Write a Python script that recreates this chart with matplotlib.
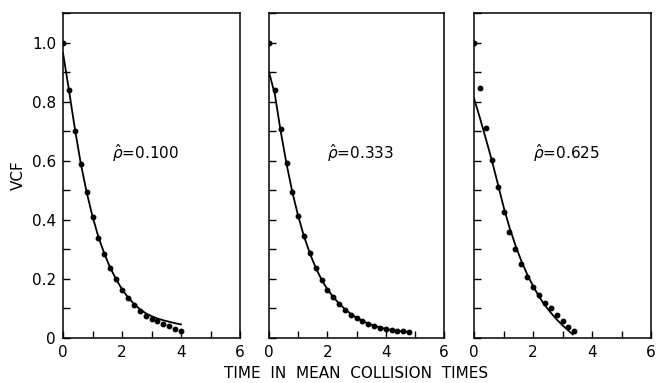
import matplotlib.pyplot as plt
from matplotlib.ticker import MultipleLocator

# simulation points (spacing 0.2 mean collision times)
t1 = [0.0, 0.2, 0.4, 0.6, 0.8, 1.0, 1.2, 1.4, 1.6, 1.8, 2.0, 2.2, 2.4, 2.6, 2.8, 3.0,
      3.2, 3.4, 3.6, 3.8, 4.0]
vcf1 = [1.0, 0.839, 0.702, 0.589, 0.493, 0.411, 0.340, 0.284, 0.238, 0.199, 0.162,
        0.136, 0.113, 0.092, 0.075, 0.066, 0.058, 0.049, 0.041, 0.032, 0.024]

t2 = [0.0, 0.2, 0.4, 0.6, 0.8, 1.0, 1.2, 1.4, 1.6, 1.8, 2.0, 2.2, 2.4, 2.6, 2.8, 3.0,
      3.2, 3.4, 3.6, 3.8, 4.0, 4.2, 4.4, 4.6, 4.8]
vcf2 = [1.0, 0.841, 0.706, 0.592, 0.495, 0.414, 0.345, 0.287, 0.238, 0.198, 0.164,
        0.138, 0.116, 0.096, 0.079, 0.068, 0.058, 0.049, 0.042, 0.035, 0.029, 0.026,
        0.024, 0.023, 0.022]

t3 = [0.0, 0.2, 0.4, 0.6, 0.8, 1.0, 1.2, 1.4, 1.6, 1.8, 2.0, 2.2, 2.4, 2.6, 2.8, 3.0,
      3.2, 3.4]
vcf3 = [1.0, 0.845, 0.712, 0.601, 0.510, 0.428, 0.358, 0.300, 0.250, 0.208, 0.173,
        0.144, 0.119, 0.100, 0.078, 0.057, 0.037, 0.024]

# theory curves
ct1 = [0.0, 0.2, 0.4, 0.6, 0.8, 1.0, 1.2, 1.4, 1.6, 1.8, 2.0, 2.2, 2.4, 2.6, 2.8, 3.0,
       3.2, 3.4, 3.6, 3.8, 4.0]
cv1 = [0.965, 0.84, 0.71, 0.592, 0.494, 0.412, 0.342, 0.286, 0.238, 0.199, 0.165,
       0.138, 0.116, 0.098, 0.084, 0.074, 0.066, 0.060, 0.055, 0.050, 0.046]

ct2 = [0.0, 0.2, 0.4, 0.6, 0.8, 1.0, 1.2, 1.4, 1.6, 1.8, 2.0, 2.2, 2.4, 2.6, 2.8, 3.0,
       3.2, 3.4, 3.6, 3.8, 4.0, 4.2, 4.4, 4.6, 4.8]
cv2 = [0.90, 0.825, 0.70, 0.59, 0.494, 0.413, 0.344, 0.287, 0.238, 0.198, 0.165,
       0.139, 0.117, 0.098, 0.082, 0.069, 0.058, 0.049, 0.042, 0.036, 0.031, 0.027,
       0.024, 0.022, 0.021]

ct3 = [0.0, 0.2, 0.4, 0.6, 0.8, 1.0, 1.2, 1.4, 1.6, 1.8, 2.0, 2.2, 2.4, 2.6, 2.8, 3.0,
       3.2, 3.35]
cv3 = [0.812, 0.745, 0.675, 0.603, 0.525, 0.445, 0.375, 0.315, 0.262, 0.216, 0.176,
       0.141, 0.111, 0.086, 0.063, 0.043, 0.025, 0.012]

labels = [r'$\hat{\rho}$=0.100', r'$\hat{\rho}$=0.333', r'$\hat{\rho}$=0.625']
label_x = [1.65, 2.0, 2.0]

panels = [(t1, vcf1, ct1, cv1), (t2, vcf2, ct2, cv2), (t3, vcf3, ct3, cv3)]
lefts = [63, 269, 474]
widths = [177, 175, 177]

W, H = 661, 383
fig = plt.figure(figsize=(W / 100, H / 100), dpi=100)
plt.rcParams['font.family'] = ['DejaVu Sans']
plt.rcParams['mathtext.fontset'] = 'dejavusans'

for i, (t, v, ct, cv) in enumerate(panels):
    ax = fig.add_axes([lefts[i] / W, (H - 338) / H, widths[i] / W, 325 / H])
    ax.plot(ct, cv, color='black', lw=1.3)
    ax.plot(t, v, 'o', color='black', ms=3.2)
    ax.set_xlim(0, 6)
    ax.set_ylim(0, 1.1)
    ax.xaxis.set_major_locator(MultipleLocator(2))
    ax.xaxis.set_minor_locator(MultipleLocator(1))
    ax.yaxis.set_major_locator(MultipleLocator(0.2))
    ax.yaxis.set_minor_locator(MultipleLocator(0.1))
    ax.tick_params(which='both', direction='in', top=False, right=False,
                   labelsize=11, width=1.0)
    ax.tick_params(which='major', length=5, pad=5)
    ax.tick_params(which='minor', length=5)
    ax.set_xticks([0, 2, 4, 6])
    ax.set_xticklabels(['0', '2', '4', '6'])
    if i == 0:
        ax.set_yticks([0, 0.2, 0.4, 0.6, 0.8, 1.0])
        ax.set_yticklabels(['0', '0.2', '0.4', '0.6', '0.8', '1.0'])
        ax.set_ylabel('VCF', fontsize=11, labelpad=4)
    else:
        ax.tick_params(axis='y', which='both', labelleft=False)
    for s in ax.spines.values():
        s.set_linewidth(1.1)
    ax.text(label_x[i], 0.625, labels[i], fontsize=11, ha='left', va='center')
    if i == 1:
        ax.set_xlabel('TIME  IN  MEAN  COLLISION  TIMES', fontsize=11, labelpad=4)

fig.savefig('out.png', dpi=100)
